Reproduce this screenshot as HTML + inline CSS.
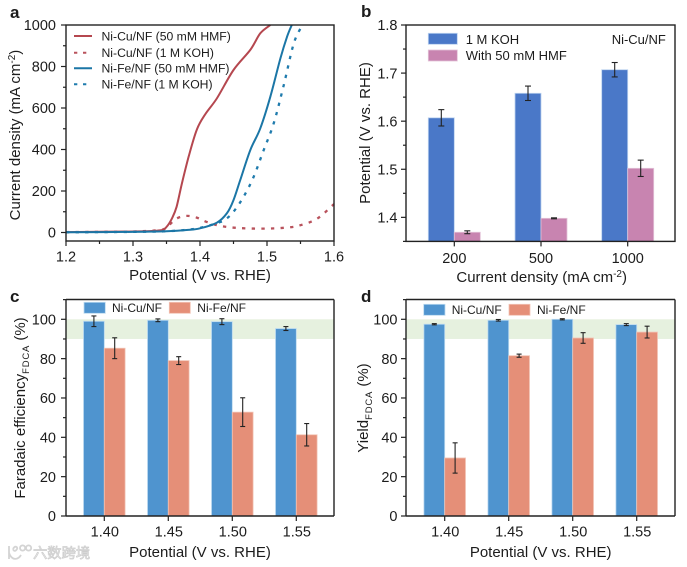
<!DOCTYPE html>
<html><head><meta charset="utf-8"><title>Electrocatalysis panels</title>
<style>
html,body{margin:0;padding:0;background:#fff;width:687px;height:567px;overflow:hidden}
svg{display:block;filter:blur(.3px)}
text{font-family:"Liberation Sans","Noto Sans CJK SC",sans-serif;fill:#1c1c1c}
</style></head>
<body>
<svg id="fig" width="687" height="567" viewBox="0 0 687 567" xmlns="http://www.w3.org/2000/svg">
<g>
<path d="M9 546v13M9 553c3 8 9 7 12 2M13 549c2-4 5-2 4 0s-3 3-4 0M20 548a2.6 2.6 0 1 0 5.200 0a2.600 2.600 0 1 0-5.200 0M26 548a2.600 2.600 0 1 0 5.200 0a2.600 2.600 0 1 0-5.200 0" fill="none" stroke="#d4d4d4" stroke-width="1.8"/>
<text x="33" y="558" font-size="14.300" style="fill:#efefef;stroke:#cdcdcd;stroke-width:.7">六数跨境</text>
</g>
</svg>
<script>
// Panel a data
const aPotentialCuHmf=[1.2,1.3,1.34,1.35,1.358,1.365,1.373,1.383,1.395,1.407,1.425,1.45,1.475,1.49,1.505];
const aCurrentCuHmf=[2,5,10,27,67,124,236,365,494,566,646,783,880,960,1000];
const aPotentialCuKoh=[1.2,1.3,1.34,1.35,1.365,1.38,1.395,1.41,1.43,1.46,1.5,1.53,1.55,1.575,1.6];
const aCurrentCuKoh=[2,5,12,25,67,80,72,51,32,21,19,24,35,67,137];
const aPotentialFeHmf=[1.2,1.3,1.35,1.38,1.4,1.425,1.44,1.45,1.46,1.475,1.49,1.505,1.52,1.53,1.537];
const aCurrentFeHmf=[1,3,6,12,20,47,92,156,252,397,502,654,839,944,1000];
const aPotentialFeKoh=[1.2,1.3,1.35,1.38,1.4,1.43,1.44,1.45,1.465,1.48,1.495,1.51,1.525,1.54,1.553];
const aCurrentFeKoh=[1,3,6,13,22,50,68,100,172,268,397,526,711,912,1000];
const aXTicks=["1.2","1.3","1.4","1.5","1.6"];
const aYTicks=["0","200","400","600","800","1000"];
// Panel b data
const bCategories=["200","500","1000"];
const bKoh=[1.607,1.658,1.707];
const bKohErr=[0.017,0.015,0.015];
const bHmf=[1.369,1.398,1.502];
const bHmfErr=[0.003,0.001,0.017];
const bYTicks=["1.4","1.5","1.6","1.7","1.8"];
// Panel c data
const cCategories=["1.40","1.45","1.50","1.55"];
const cCu=[99,99.5,98.8,95.3];
const cCuErr=[2.7,0.7,1.5,1];
const cFe=[85.3,79,52.8,41.3];
const cFeErr=[5.3,2,7.3,5.7];
// Panel d data
const dCategories=["1.40","1.45","1.50","1.55"];
const dCu=[97.5,99.5,100,97.3];
const dCuErr=[0.3,0.4,0.3,0.5];
const dFe=[29.5,81.5,90.5,93.5];
const dFeErr=[7.7,0.8,2.7,3];
const pctTicks=["0","20","40","60","80","100"];

const svg=document.getElementById('fig');
const NS='http://www.w3.org/2000/svg';
function mk(tag,attrs,parent,txt){
  const e=document.createElementNS(NS,tag);
  for(const k in attrs)e.setAttribute(k,attrs[k]);
  if(txt!==undefined)e.textContent=txt;
  (parent||svg).appendChild(e);
  return e;
}
function label(txt,x,y,size,anchor,name,extra){
  const t=mk('text',Object.assign({x:x,y:y,'font-size':size,'text-anchor':anchor||'start'},extra||{}),svg,txt);
  
  
  return t;
}
function seg(x1,y1,x2,y2,name,w,col){
  const l=mk('line',{x1:x1,y1:y1,x2:x2,y2:y2,stroke:col||'#222','stroke-width':w||1.2});
  
  
  return l;
}
function rect(x,y,w,h,fill,name,stroke){
  const r=mk('rect',{x:x,y:y,width:w,height:h,fill:fill});
  if(stroke){r.setAttribute('stroke',stroke);r.setAttribute('stroke-width','0.8');}
  
  
  return r;
}
function frame(L,R,T,B,p){
  const f=mk('rect',{x:L,y:T,width:R-L,height:B-T,fill:'none',stroke:'#222','stroke-width':1.4});
  
  
}
function rotated(x,y,size,name){
  const t=mk('text',{transform:'translate('+x+','+y+') rotate(-90)','text-anchor':'middle','font-size':size});
  
  
  return t;
}
function smooth(P){
  let d='M'+P[0][0].toFixed(1)+' '+P[0][1].toFixed(1);
  for(let i=0;i<P.length-1;i++){
    const a=P[Math.max(i-1,0)],b=P[i],c=P[i+1],e=P[Math.min(i+2,P.length-1)];
    d+=' C'+(b[0]+(c[0]-a[0])/6).toFixed(1)+' '+(b[1]+(c[1]-a[1])/6).toFixed(1)+' '+(c[0]-(e[0]-b[0])/6).toFixed(1)+' '+(c[1]-(e[1]-b[1])/6).toFixed(1)+' '+c[0].toFixed(1)+' '+c[1].toFixed(1);
  }
  return d;
}

/* ---------- Panel a ---------- */
(function(){
  const L=66,R=334,T=25,B=241,Y0=232.5,Y1=25;
  const x=v=>L+(v-1.2)/0.4*(R-L);
  const y=v=>Y0+(v/1000)*(Y1-Y0);
  aXTicks.forEach(s=>{
    const v=+s;
    seg(x(v),B,x(v),B+5,'a-x-tick');
    label(s,x(v),261.5,14.5,'middle','a-x-tick-label');
    if(v<1.6)seg(x(v+0.05),B,x(v+0.05),B+3,'a-x-minor-tick');
  });
  aYTicks.forEach(s=>{
    const v=+s;
    seg(L-5,y(v),L,y(v),'a-y-tick');
    label(s,56,y(v)+5.2,14.5,'end','a-y-tick-label');
    if(v<1000)seg(L-3,y(v+100),L,y(v+100),'a-y-minor-tick');
  });
  const series=[
    [aPotentialCuKoh,aCurrentCuKoh,'#b9525c','3.300 6.300',2.3,'a-line-ni-cu-koh'],
    [aPotentialCuHmf,aCurrentCuHmf,'#b5474f','',2,'a-line-ni-cu-hmf'],
    [aPotentialFeKoh,aCurrentFeKoh,'#1f7bad','3.300 6.300',2.3,'a-line-ni-fe-koh'],
    [aPotentialFeHmf,aCurrentFeHmf,'#1b76a6','',2,'a-line-ni-fe-hmf']
  ];
  series.forEach(s=>{
    const pts=s[0].map((p,i)=>[x(p),y(s[1][i])]);
    const l=mk('path',{d:smooth(pts),fill:'none',stroke:s[2],'stroke-width':s[4],'stroke-dasharray':s[3],'stroke-linejoin':'round'});
    
    
  });
  frame(L,R,T,B,'a');
  const leg=[['Ni-Cu/NF (50 mM HMF)','#b5474f','',36],['Ni-Cu/NF (1 M KOH)','#b9525c','3.300 5.700',52.7],['Ni-Fe/NF (50 mM HMF)','#1b76a6','',68.3],['Ni-Fe/NF (1 M KOH)','#1f7bad','3.300 5.700',84.3]];
  leg.forEach(e=>{
    const l=seg(74,e[3],92,e[3],'a-legend-line',2,e[1]);
    if(e[2])l.setAttribute('stroke-dasharray',e[2]);
    label(e[0],101.5,e[3]+4.3,12.2,'start','a-legend-label');
  });
  label('a',10,18,17,'start','panel-label-a',{'font-weight':'bold'});
  label('Potential (V vs. RHE)',200,280,15,'middle','a-x-axis-title');
  const t=rotated(20,135,15,'a-y-axis-title');
  mk('tspan',{},t,'Current density (mA cm');
  mk('tspan',{dy:-5,'font-size':10},t,'-2');
  mk('tspan',{dy:5},t,')');
})();

/* ---------- Panel b ---------- */
(function(){
  const L=406,R=675,T=25,B=241.4,BW=26,C0=454.3,STEP=86.7;
  const y=v=>T+(1.8-v)/0.45*(B-T);
  const cx=i=>C0+i*STEP;
  bCategories.forEach((c,i)=>{
    rect(cx(i)-BW,y(bKoh[i]),BW,B-y(bKoh[i]),'#4a78c8','b-bar-koh-'+c,'#bcd3ef');
    rect(cx(i),y(bHmf[i]),BW,B-y(bHmf[i]),'#c884b0','b-bar-hmf-'+c,'#e3c3d8');
  });
  bCategories.forEach((c,i)=>{
    [[cx(i)-BW/2,bKoh[i],bKohErr[i],'koh'],[cx(i)+BW/2,bHmf[i],bHmfErr[i],'hmf']].forEach(e=>{
      seg(e[0],y(e[1]+e[2]),e[0],y(e[1]-e[2]),'b-error-bar-'+e[3]+'-'+c,1.1,'#222');
      seg(e[0]-3,y(e[1]+e[2]),e[0]+3,y(e[1]+e[2]),'b-error-cap-'+e[3]+'-'+c,1.1,'#222');
      seg(e[0]-3,y(e[1]-e[2]),e[0]+3,y(e[1]-e[2]),'b-error-cap-'+e[3]+'-'+c,1.1,'#222');
    });
    seg(cx(i),B,cx(i),B+5,'b-x-tick');
    label(c,cx(i),263,14.5,'middle','b-x-tick-label');
  });
  bYTicks.forEach(s=>{
    const v=+s;
    seg(L-5,y(v),L,y(v),'b-y-tick');
    label(s,397.5,y(v)+5.2,14.5,'end','b-y-tick-label');
    seg(L-3,y(v-0.05),L,y(v-0.05),'b-y-minor-tick');
  });
  frame(L,R,T,B,'b');
  rect(428.3,33.3,29,11,'#4a78c8','b-legend-swatch-koh','#bcd3ef');
  rect(428.3,50,29,11,'#c884b0','b-legend-swatch-hmf','#e3c3d8');
  label('1 M KOH',465.7,44,13,'start','b-legend-label-koh');
  label('With 50 mM HMF',465.7,60,13,'start','b-legend-label-hmf');
  label('Ni-Cu/NF',611.7,44,13,'start','b-sample-label');
  label('b',361,17,17,'start','panel-label-b',{'font-weight':'bold'});
  const xt=label('Current density (mA cm',541.7,282,15,'middle','b-x-axis-title');
  mk('tspan',{dy:-5,'font-size':10},xt,'-2');
  mk('tspan',{dy:5},xt,')');
  const t=rotated(370,133,15,'b-y-axis-title');
  t.textContent='Potential (V vs. RHE)';
})();

/* ---------- Panels c and d ---------- */
function barPanel(o){
  const T=299.5,B=516,Y100=319.3;
  const y=v=>B-(v/100)*(B-Y100);
  const cx=i=>o.c0+i*64;
  const BW=20.8;
  rect(o.L,y(100),o.R-o.L,y(90)-y(100),'#e6f1df',o.p+'-highlight-band');
  o.cats.forEach((c,i)=>{
    rect(cx(i)-BW,y(o.cu[i]),BW,B-y(o.cu[i]),'#4f94cf',o.p+'-bar-ni-cu-'+c,'#bcdaf0');
    rect(cx(i),y(o.fe[i]),BW,B-y(o.fe[i]),'#e58f78',o.p+'-bar-ni-fe-'+c,'#f2c4b6');
  });
  o.cats.forEach((c,i)=>{
    [[cx(i)-BW/2,o.cu[i],o.cuE[i],'ni-cu'],[cx(i)+BW/2,o.fe[i],o.feE[i],'ni-fe']].forEach(e=>{
      seg(e[0],y(e[1]+e[2]),e[0],y(e[1]-e[2]),o.p+'-error-bar-'+e[3]+'-'+c,1.1,'#222');
      seg(e[0]-2.5,y(e[1]+e[2]),e[0]+2.5,y(e[1]+e[2]),o.p+'-error-cap-'+e[3]+'-'+c,1.1,'#222');
      seg(e[0]-2.5,y(e[1]-e[2]),e[0]+2.5,y(e[1]-e[2]),o.p+'-error-cap-'+e[3]+'-'+c,1.1,'#222');
    });
    seg(cx(i),B,cx(i),B+5,o.p+'-x-tick');
    label(c,cx(i)+0.5,536.7,14.5,'middle',o.p+'-x-tick-label');
  });
  pctTicks.forEach(s=>{
    const v=+s;
    seg(o.L-5,y(v),o.L,y(v),o.p+'-y-tick');
    label(s,o.lab,y(v)+5.2,14.5,'end',o.p+'-y-tick-label');
    seg(o.L-3,y(v+10),o.L,y(v+10),o.p+'-y-minor-tick');
  });
  seg(o.L,T,o.R,T,o.p+'-top-axis',1.4);
  seg(o.L,T,o.L,B,o.p+'-left-axis',1.4);
  seg(o.L,B,o.R,B,o.p+'-bottom-axis',1.4);
  seg(o.R,T,o.R,B,o.p+'-right-axis',1.4);
  rect(o.s1,o.sy,21.3,11,'#4f94cf',o.p+'-legend-swatch-ni-cu','#bcdaf0');
  rect(o.s2,o.sy,21,11,'#e58f78',o.p+'-legend-swatch-ni-fe','#f2c4b6');
  label('Ni-Cu/NF',o.s1+28,o.sy+9.6,12,'start',o.p+'-legend-label-ni-cu');
  label('Ni-Fe/NF',o.s2+28,o.sy+9.6,12,'start',o.p+'-legend-label-ni-fe');
  label(o.p,o.pl,302,17,'start','panel-label-'+o.p,{'font-weight':'bold'});
  label('Potential (V vs. RHE)',o.tx,557,15,'middle',o.p+'-x-axis-title');
  const t=rotated(o.yx,408,15,o.p+'-y-axis-title');
  mk('tspan',{},t,o.yt);
  mk('tspan',{dy:4,'font-size':9.5,'letter-spacing':'0.8'},t,'FDCA');
  mk('tspan',{dy:-4},t,' (%)');
}
barPanel({p:'c',L:66,R:334,lab:56,c0:104.3,cats:cCategories,cu:cCu,cuE:cCuErr,fe:cFe,feE:cFeErr,s1:84,s2:169.3,sy:302.3,pl:10,tx:200,yx:25,yt:'Faradaic efficiency'});
barPanel({p:'d',L:406,R:675,lab:397.5,c0:444.7,cats:dCategories,cu:dCu,cuE:dCuErr,fe:dFe,feE:dFeErr,s1:423.7,s2:509,sy:304.3,pl:361,tx:540.7,yx:368,yt:'Yield'});
</script>
</body></html>
